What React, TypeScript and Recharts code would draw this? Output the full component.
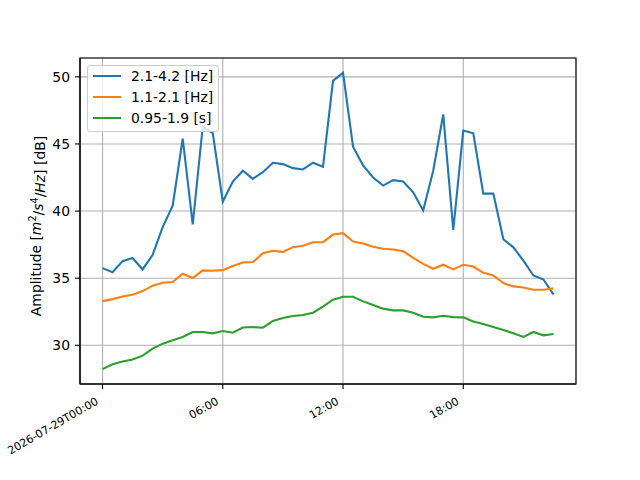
import React from "react";
import {
  CartesianGrid,
  Legend,
  Line,
  LineChart,
  ReferenceArea,
  XAxis,
  YAxis,
} from "recharts";

// half-hourly samples, 2026-07-29
const TIMES = [
  "00:00", "00:30", "01:00", "01:30", "02:00", "02:30", "03:00", "03:30",
  "04:00", "04:30", "05:00", "05:30", "06:00", "06:30", "07:00", "07:30",
  "08:00", "08:30", "09:00", "09:30", "10:00", "10:30", "11:00", "11:30",
  "12:00", "12:30", "13:00", "13:30", "14:00", "14:30", "15:00", "15:30",
  "16:00", "16:30", "17:00", "17:30", "18:00", "18:30", "19:00", "19:30",
  "20:00", "20:30", "21:00", "21:30", "22:00", "22:30",
];

const BAND_HIGH = [
  35.75, 35.45, 36.27, 36.5, 35.65, 36.74, 38.8, 40.4,
  45.4, 39.0, 46.3, 45.8, 40.7, 42.2, 43.0, 42.4,
  42.9, 43.6, 43.5, 43.2, 43.1, 43.6, 43.3, 49.7,
  50.3, 44.8, 43.4, 42.5, 41.9, 42.3, 42.2, 41.4,
  40.05, 43.0, 47.2, 38.6, 46.0, 45.8, 41.3, 41.3,
  37.9, 37.3, 36.3, 35.2, 34.9, 33.8,
];

const BAND_MID = [
  33.29, 33.44, 33.64, 33.77, 34.04, 34.44, 34.66, 34.71,
  35.33, 35.01, 35.58, 35.55, 35.6, 35.9, 36.17, 36.2,
  36.86, 37.04, 36.96, 37.31, 37.41, 37.68, 37.68, 38.25,
  38.35, 37.73, 37.58, 37.34, 37.19, 37.14, 37.0, 36.52,
  36.07, 35.7, 36.0, 35.65, 36.0, 35.87, 35.4, 35.2,
  34.63, 34.39, 34.31, 34.14, 34.14, 34.24,
];

const BAND_PERIOD = [
  28.22, 28.59, 28.79, 28.94, 29.23, 29.75, 30.12, 30.37,
  30.62, 30.99, 30.99, 30.89, 31.06, 30.94, 31.32, 31.36,
  31.31, 31.81, 32.03, 32.18, 32.26, 32.43, 32.88, 33.4,
  33.62, 33.62, 33.27, 33.0, 32.73, 32.6, 32.6, 32.43,
  32.13, 32.08, 32.2, 32.1, 32.08, 31.78, 31.58, 31.36,
  31.14, 30.89, 30.62, 30.99, 30.74, 30.84,
];

const SERIES = [
  { key: "high", name: "2.1-4.2 [Hz]", color: "#1f77b4" },
  { key: "mid", name: "1.1-2.1 [Hz]", color: "#ff7f0e" },
  { key: "period", name: "0.95-1.9 [s]", color: "#2ca02c" },
];

const X_TICKS = [0, 6, 12, 18];
const X_TICK_LABELS = ["2026-07-29T00:00", "06:00", "12:00", "18:00"];
const Y_TICKS = [30, 35, 40, 45, 50];

const FONT = "DejaVu Sans, sans-serif";

const toHours = (t: string) => {
  const [h, m] = t.split(":").map(Number);
  return h + m / 60;
};

const data = TIMES.map((t, i) => ({
  h: toHours(t),
  high: BAND_HIGH[i],
  mid: BAND_MID[i],
  period: BAND_PERIOD[i],
}));

// matplotlib-like 5% margins
const allY = [...BAND_HIGH, ...BAND_MID, ...BAND_PERIOD];
const yLo = Math.min(...allY);
const yHi = Math.max(...allY);
const yPad = (yHi - yLo) * 0.05;
const Y_DOMAIN: [number, number] = [yLo - yPad, yHi + yPad];
const xLo = data[0].h;
const xHi = data[data.length - 1].h;
const xPad = (xHi - xLo) * 0.05;
const X_DOMAIN: [number, number] = [xLo - xPad, xHi + xPad];

function XTick(props: any) {
  const { x, y, payload } = props;
  const idx = X_TICKS.indexOf(payload.value);
  const tx = x - 3.5;
  const ty = y + 12.5;
  return (
    <text
      x={tx}
      y={ty}
      textAnchor="end"
      transform={`rotate(-30, ${tx}, ${ty})`}
      fontSize={11}
      fontFamily={FONT}
      fill="#000"
    >
      {idx >= 0 ? X_TICK_LABELS[idx] : ""}
    </text>
  );
}

function YLabel() {
  const x = 41;
  const y = 226;
  return (
    <text
      x={x}
      y={y}
      textAnchor="middle"
      transform={`rotate(-90, ${x}, ${y})`}
      fontSize={13.9}
      fontFamily={FONT}
      fill="#000"
    >
      Amplitude [<tspan fontStyle="italic">m</tspan>
      <tspan dy="-0.5em" fontSize={9.7}>2</tspan>
      <tspan dy="0.5em">/</tspan>
      <tspan fontStyle="italic">s</tspan>
      <tspan dy="-0.5em" fontSize={9.7}>4</tspan>
      <tspan dy="0.5em">/</tspan>
      <tspan fontStyle="italic">Hz</tspan>] [dB]
    </text>
  );
}

function LegendBox() {
  return (
    <div
      style={{
        position: "relative",
        width: 132,
        height: 67,
        boxSizing: "border-box",
        border: "1px solid #cccccc",
        borderRadius: 3,
        background: "rgba(255,255,255,0.8)",
        fontFamily: FONT,
        fontSize: 13.9,
        color: "#000",
      }}
    >
      {SERIES.map((s, i) => (
        <div key={s.key}>
          <div
            style={{
              position: "absolute",
              left: 5,
              top: 10 + i * 21.2 - 1,
              width: 28,
              height: 2,
              background: s.color,
            }}
          />
          <div
            style={{
              position: "absolute",
              left: 43,
              top: 10 + i * 21.2 - 9,
              lineHeight: "18px",
              whiteSpace: "nowrap",
            }}
          >
            {s.name}
          </div>
        </div>
      ))}
    </div>
  );
}

export default function App() {
  return (
    <div style={{ position: "absolute", left: 0, top: 0, width: 640, height: 480, background: "#fff" }}>
      <LineChart
        width={640}
        height={480}
        data={data}
        margin={{ top: 58, right: 64, bottom: 0, left: 0 }}
      >
        <CartesianGrid stroke="#b0b0b0" strokeWidth={1.1} />
        <XAxis
          dataKey="h"
          type="number"
          domain={X_DOMAIN}
          ticks={X_TICKS}
          allowDataOverflow
          height={96}
          tickSize={5}
          axisLine={{ stroke: "#000", strokeWidth: 1.1 }}
          tickLine={{ stroke: "#000", strokeWidth: 1.1 }}
          tick={<XTick />}
          interval={0}
        />
        <YAxis
          type="number"
          domain={Y_DOMAIN}
          ticks={Y_TICKS}
          allowDataOverflow
          width={80}
          tickSize={5}
          tickMargin={5}
          axisLine={{ stroke: "#000", strokeWidth: 1.1 }}
          tickLine={{ stroke: "#000", strokeWidth: 1.1 }}
          tick={{ fontSize: 13.9, fontFamily: FONT, fill: "#000" }}
          label={<YLabel />}
          interval={0}
        />
        {SERIES.map((s) => (
          <Line
            key={s.key}
            dataKey={s.key}
            name={s.name}
            stroke={s.color}
            strokeWidth={2.1}
            dot={false}
            activeDot={false}
            isAnimationActive={false}
          />
        ))}
        <ReferenceArea
          x1={X_DOMAIN[0]}
          x2={X_DOMAIN[1]}
          y1={Y_DOMAIN[0]}
          y2={Y_DOMAIN[1]}
          fill="none"
          stroke="#000"
          strokeWidth={1.1}
          ifOverflow="visible"
        />
        <Legend
          layout="vertical"
          align="center"
          verticalAlign="middle"
          wrapperStyle={{ left: 87, top: 65, width: 132, height: 67 }}
          content={() => <LegendBox />}
        />
      </LineChart>
    </div>
  );
}
